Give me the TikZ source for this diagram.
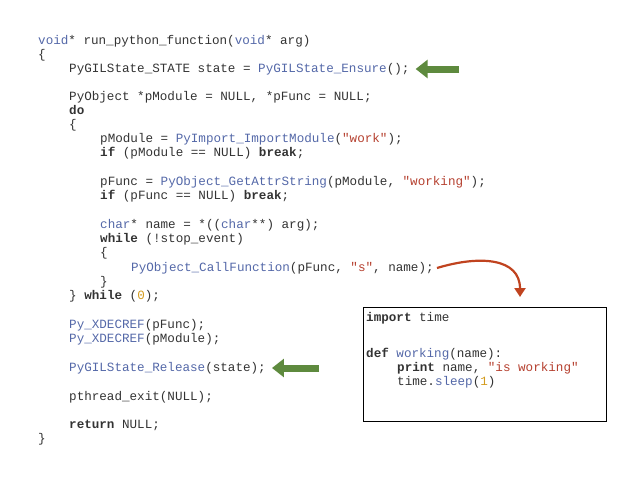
\documentclass[tikz,border=0pt]{standalone}
\usepackage{fontspec}
\setmonofont{Liberation Mono}
\usetikzlibrary{arrows.meta}
\definecolor{fnc}{HTML}{5468A8}
\definecolor{strc}{HTML}{B5402F}
\definecolor{numc}{HTML}{D39B1E}
\definecolor{txtc}{HTML}{333333}
\definecolor{grn}{HTML}{5E8A3E}
\definecolor{redarr}{HTML}{C0431F}
\newcommand{\kw}[1]{\textbf{#1}}
\newcommand{\fn}[1]{\textcolor{fnc}{#1}}
\newcommand{\st}[1]{\textcolor{strc}{#1}}
\newcommand{\nm}[1]{\textcolor{numc}{#1}}
\tikzset{code/.style={anchor=base west,inner sep=0pt,font=\ttfamily\fontsize{12.6}{14}\selectfont,text=txtc},
  garrow/.style={draw=grn,line width=7pt,-{Triangle[length=12pt,width=18pt]}},
  pybox/.style={draw=black,line width=0.8pt,minimum width=243pt,minimum height=114pt,inner sep=0pt,anchor=north west}}
\begin{document}
\begin{tikzpicture}[x=1pt,y=-1pt]
\useasboundingbox (0,0) rectangle (638,479);
\node[code] (l1) at (38,44) {\fn{void}* run\_python\_function(\fn{void}* arg)};
\node[code] (l2) at (38,58) {\{};
\node[code] (l3) at (69,72) {PyGILState\_STATE state = \fn{PyGILState\_Ensure}();};
\node[code] (l4) at (69,100) {PyObject *pModule = NULL, *pFunc = NULL;};
\node[code] (l5) at (69,114) {\kw{do}};
\node[code] (l6) at (69,128) {\{};
\node[code] (l7) at (100,142) {pModule = \fn{PyImport\_ImportModule}(\st{"work"});};
\node[code] (l8) at (100,156) {\kw{if} (pModule == NULL) \kw{break};};
\node[code] (l9) at (100,185) {pFunc = \fn{PyObject\_GetAttrString}(pModule, \st{"working"});};
\node[code] (l10) at (100,199) {\kw{if} (pFunc == NULL) \kw{break};};
\node[code] (l11) at (100,228) {\fn{char}* name = *((\fn{char}**) arg);};
\node[code] (l12) at (100,242) {\kw{while} (!stop\_event)};
\node[code] (l13) at (100,256) {\{};
\node[code] (l14) at (131,271) {\fn{PyObject\_CallFunction}(pFunc, \st{"s"}, name);};
\node[code] (l15) at (100,285) {\}};
\node[code] (l16) at (69,299) {\} \kw{while} (\nm{0});};
\node[code] (l17) at (69,328) {\fn{Py\_XDECREF}(pFunc);};
\node[code] (l18) at (69,342) {\fn{Py\_XDECREF}(pModule);};
\node[code] (l19) at (69,371) {\fn{PyGILState\_Release}(state);};
\node[code] (l20) at (69,400) {pthread\_exit(NULL);};
\node[code] (l21) at (69,428) {\kw{return} NULL;};
\node[code] (l22) at (38,442) {\}};
\node[pybox] (box) at (363,307) {};
\node[code] (p1) at (366,321) {\kw{import} time};
\node[code] (p2) at (366,357) {\kw{def} \fn{working}(name):};
\node[code] (p3) at (397,371) {\kw{print} name, \st{"is working"}};
\node[code] (p4) at (397,385) {time.\fn{sleep}(\nm{1})};
\coordinate (g1s) at (459,69);
\coordinate (g2s) at (319,368);
\draw[garrow] (g1s) -- ([xshift=6pt]l3.east |- g1s);
\draw[garrow] (g2s) -- ([xshift=6pt]l19.east |- g2s);
\coordinate (ra) at (437,268);
\coordinate (rb) at (520,297);
\draw[redarr,line width=2.2pt,-{Triangle[length=9pt,width=11pt]}] (ra) .. controls (480,255) and (520,258) .. (rb);
\end{tikzpicture}
\end{document}
